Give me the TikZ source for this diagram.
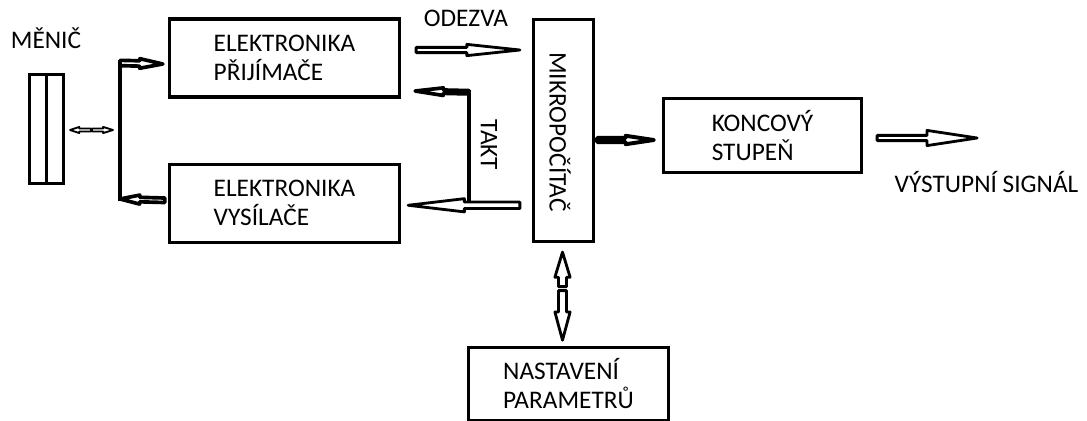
\documentclass[tikz,border=0pt]{standalone}
\usepackage{fontspec}
\setmainfont{Carlito}
\usetikzlibrary{positioning, calc}
\tikzset{
  every picture/.style={line width=2.3pt},
  box/.style={draw, line width=2.3pt, align=left, inner sep=0pt, font=\fontsize{18}{20.6}\selectfont},
  lbl/.style={font=\fontsize{18}{20.6}\selectfont, inner sep=0pt},
  bus/.style={line width=3pt, line cap=rect},
  hp/.style={shift={(\p1)}, rotate=\n1},
  hollow/.style n args={3}{draw, fill=white, line width=2pt, line join=round, to path={
    let \p1=(\tikztostart), \p2=(\tikztotarget),
        \n1={atan2(\y2-\y1,\x2-\x1)}, \n2={veclen(\x2-\x1,\y2-\y1)} in
    ([hp]0pt,#1) -- ([hp]{\n2-#3},#1) -- ([hp]{\n2-#3},#2) -- ([hp]\n2,0pt)
    -- ([hp]{\n2-#3},-#2) -- ([hp]{\n2-#3},-#1) -- ([hp]0pt,-#1) -- cycle}},
}
\begin{document}
\begin{tikzpicture}[x=0.025cm, y=-0.025cm]
  \useasboundingbox (0,0) rectangle (1087,421);
  % blocks
  \node[lbl] (mn) at (46,38) {MĚNIČ};
  \node[box, minimum width=0.85cm, minimum height=2.73cm] (tr) at (46.5,129) {};
  \draw[line width=2.3pt] (tr.north) -- (tr.south);
  \node[box, minimum width=5.75cm, minimum height=1.95cm] (rx) at (284.5,58) {ELEKTRONIKA\\PŘIJÍMAČE};
  \node[box, minimum width=5.75cm, minimum height=1.95cm, below=1.6cm of rx] (tx) {ELEKTRONIKA\\VYSÍLAČE};
  \node[box, minimum width=1.5cm, minimum height=5.55cm] (mcu) at (563.5,130.5) {};
  \node[lbl, rotate=-90] (mcut) at (560,132) {MIKROPOČÍTAČ};
  \node[box, minimum width=4.95cm, minimum height=1.85cm] (ks) at (762.5,135.5) {KONCOVÝ\\STUPEŇ};
  \node[box, minimum width=5cm, minimum height=1.81cm] (np) at (568.5,384) {NASTAVENÍ\\PARAMETRŮ};
  % labels
  \node[lbl] (odz) at (466,18) {ODEZVA};
  \node[lbl, rotate=-90] (tkt) at (489,145) {TAKT};
  \node[lbl] (vs) at (986.5,182) {VÝSTUPNÍ SIGNÁL};
  % menic bus
  \coordinate (b1) at (120,63);
  \coordinate (b2) at (120,199);
  \draw[bus] (b1) -- (b2);
  \draw[hollow={1.9pt}{3.4pt}{16.4pt}, line width=2.6pt] (b1) to ($(rx.west)+(-5,6)$);
  \draw[hollow={1.6pt}{3.2pt}{14pt}, line width=2.6pt] ($(tx.west)+(-3,-3)$) to (b2);
  \draw[hollow={1.1pt}{2.2pt}{6.5pt}, line width=1.3pt] ($(b1 |- tr.east)+(-29,1)$) to ($(tr.east)+(5,1)$);
  \draw[hollow={1.1pt}{2.2pt}{7pt}, line width=1.3pt] ($(b1 |- tr.east)+(-28,1)$) to ($(b1 |- tr.east)+(-7,1)$);
  % odezva / takt
  \draw[hollow={1.85pt}{4pt}{37.7pt}] ($(rx.east)+(15,-8)$) to ($(mcu.west |- rx.east)+(-12,-8)$);
  \coordinate (t1) at ($(tx.east)+(68,2)$);
  \coordinate (t2) at ($(t1)+(0,-113)$);
  \draw[bus] (t1) -- (t2);
  \draw[hollow={2.3pt}{4.7pt}{40pt}] ($(mcu.west |- tx.east)+(-12,2)$) to ($(tx.east)+(7,2)$);
  \draw[hollow={1.2pt}{2.7pt}{20pt}, line width=2.6pt] (t2) to ($(rx.east)+(14,33)$);
  % output
  \draw[hollow={1.45pt}{3pt}{20pt}, line width=2.8pt] ($(mcu.east)+(2,9.5)$) to ($(ks.west)+(-8,4.5)$);
  \coordinate (sg) at ($(ks.east)+(114,2.5)$);
  \draw[hollow={1.85pt}{5.4pt}{35.6pt}] ($(ks.east)+(14,2.5)$) to (sg);
  % parametry
  \coordinate (md) at ($(mcu.south)+(-1,45.5)$);
  \draw[hollow={2.9pt}{5.4pt}{17.8pt}] ($(md)+(0,-2)$) to ($(mcu.south)+(-1,9)$);
  \draw[hollow={2.9pt}{5.4pt}{20pt}] ($(md)+(0,2)$) to ($(np.north -| md)+(0,-6)$);
\end{tikzpicture}
\end{document}
